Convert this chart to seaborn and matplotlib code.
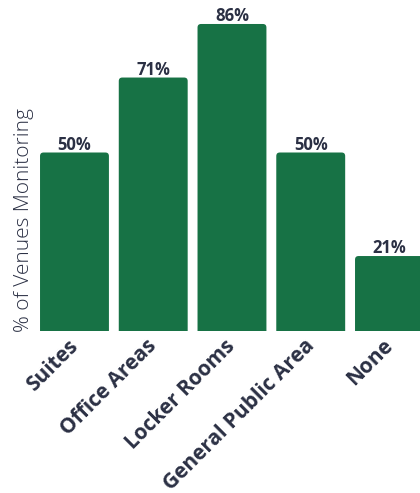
import os
import matplotlib
matplotlib.use("Agg")
import matplotlib.pyplot as plt
import matplotlib.transforms as mtransforms
from matplotlib.patches import FancyBboxPatch
from matplotlib.font_manager import FontProperties
import seaborn as sns

categories = ["Suites", "Office Areas", "Locker Rooms", "General Public Area", "None"]
values = [50, 71, 86, 50, 21]

GREEN = "#177245"
INK = "#2b3044"

sns.set_theme(style="white")
plt.rcParams["font.family"] = ["Open Sans", "DejaVu Sans"]

FONT_DIR = "/usr/share/fonts/truetype/open-sans"


def face(fname, size):
    path = os.path.join(FONT_DIR, fname)
    if os.path.exists(path):
        return FontProperties(fname=path, size=size)
    return FontProperties(family=["Open Sans", "DejaVu Sans"], size=size,
                          weight="bold" if "Bold" in fname else "light")


fig = plt.figure(figsize=(4.2, 4.93), dpi=100)
ymax = 92
ax_h = ymax * 3.57 / 493
ax = fig.add_axes([35.1 / 420, (493 - 331) / 493, 393.75 / 420, ax_h])

sns.barplot(x=categories, y=values, color=GREEN, width=0.875, ax=ax,
            saturation=1, errorbar=None)

# bars with rounded top corners (bottom corners sit below the baseline)
for p in list(ax.patches):
    x0, w, h = p.get_x(), p.get_width(), p.get_height()
    p.set_visible(False)
    rb = FancyBboxPatch((x0, -3), w, h + 3,
                        boxstyle="round,pad=0,rounding_size=0.045",
                        mutation_aspect=22, facecolor=GREEN, edgecolor="none")
    ax.add_patch(rb)
    rb.set_clip_path(ax.patch)

for i, v in enumerate(values):
    t = ax.text(i, v + 0.8, f"{v}%", ha="center", va="baseline", color=INK)
    t.set_fontproperties(face("OpenSans-Bold.ttf", 12))

ax.set_xlim(-0.5, 4.5)
ax.set_ylim(0, ymax)
ax.set_yticks([])
ax.set_xlabel("")
ax.set_ylabel("")
for s in ax.spines.values():
    s.set_visible(False)
ax.tick_params(axis="x", length=0, pad=4)
ax.set_xticks(range(len(categories)))
ax.set_xticklabels(categories, rotation=45, ha="right", rotation_mode="anchor", color=INK)
shift = mtransforms.ScaledTranslation(-7 / 100, 1 / 100, fig.dpi_scale_trans)
for lab in ax.get_xticklabels():
    lab.set_fontproperties(face("OpenSans-Bold.ttf", 15))
    lab.set_transform(lab.get_transform() + shift)

ylab = fig.text(24 / 420, (493 - 220) / 493, "% of Venues Monitoring", rotation=90,
                ha="center", va="center", color=INK)
ylab.set_fontproperties(face("OpenSans-Light.ttf", 15))

fig.savefig("out.png", dpi=100)
